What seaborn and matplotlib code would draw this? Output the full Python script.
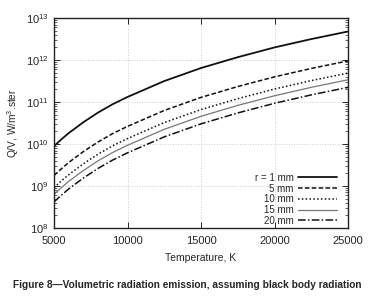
import numpy as np
import pandas as pd
import matplotlib
matplotlib.use("Agg")
import matplotlib.pyplot as plt
import seaborn as sns
from matplotlib.ticker import LogLocator, NullFormatter

sns.set_style("ticks")
plt.rcParams["font.family"] = ["Liberation Sans", "DejaVu Sans"]
plt.rcParams["mathtext.fontset"] = "custom"
plt.rcParams["mathtext.rm"] = "Liberation Sans"
plt.rcParams["mathtext.it"] = "Liberation Sans:italic"

# temperatures in K and emission values (W/m^3.ster)
temperature = [5000, 5500, 6000, 6500, 7000, 8000, 9000, 10000,
               12500, 15000, 17500, 20000, 22500, 25000]
q_r1 = [8.91e9, 1.29e10, 1.82e10, 2.45e10, 3.31e10, 5.62e10, 8.91e10, 1.32e11,
        3.16e11, 6.46e11, 1.17e12, 2.00e12, 3.16e12, 4.79e12]
q_r5 = [1.78e9, 2.57e9, 3.63e9, 4.90e9, 6.61e9, 1.12e10, 1.78e10, 2.63e10,
        6.31e10, 1.29e11, 2.34e11, 3.98e11, 6.31e11, 9.55e11]
q_r10 = [9.12e8, 1.32e9, 1.86e9, 2.51e9, 3.39e9, 5.75e9, 9.12e9, 1.35e10,
         3.24e10, 6.61e10, 1.20e11, 2.04e11, 3.24e11, 4.90e11]
q_r15 = [6.31e8, 9.12e8, 1.29e9, 1.74e9, 2.34e9, 3.98e9, 6.31e9, 9.33e9,
         2.24e10, 4.57e10, 8.32e10, 1.41e11, 2.24e11, 3.39e11]
q_r20 = [4.17e8, 6.03e8, 8.51e8, 1.15e9, 1.55e9, 2.63e9, 4.17e9, 6.17e9,
         1.48e10, 3.02e10, 5.50e10, 9.33e10, 1.48e11, 2.24e11]

labels = ["r = 1 mm", "5 mm", "10 mm", "15 mm", "20 mm"]
series = [q_r1, q_r5, q_r10, q_r15, q_r20]
styles = [("-", "#111111", 1.3), ((0, (3, 1.5)), "#111111", 1.1),
          ((0, (1, 1.5)), "#111111", 1.1), ("-", "#777777", 0.9),
          ((0, (5, 1.5, 1, 1.5)), "#111111", 1.1)]

fig = plt.figure(figsize=(3.79, 3.06), dpi=100)
ax = fig.add_axes([0.1425, 0.255, 0.776, 0.686])

for lab, vals, (ls, col, lw) in zip(labels, series, styles):
    sns.lineplot(x=temperature, y=vals, ax=ax, label=lab, color=col,
                 linestyle=ls, linewidth=lw)

ax.set_yscale("log")
ax.set_xlim(5000, 25000)
ax.set_ylim(1e8, 1e13)
ax.set_xticks([5000, 10000, 15000, 20000, 25000])
ax.yaxis.set_major_locator(LogLocator(base=10, numticks=10))
ax.yaxis.set_minor_locator(LogLocator(base=10, subs=np.arange(2, 10), numticks=10))
ax.yaxis.set_minor_formatter(NullFormatter())
ax.tick_params(axis="both", which="both", direction="in", top=True, right=True,
               labelsize=8)
ax.tick_params(axis="x", which="major", pad=6)
ax.tick_params(axis="y", which="major", pad=4)
ax.tick_params(axis="both", which="major", length=4, width=0.7)
ax.tick_params(axis="y", which="minor", length=2, width=0.5)
ax.grid(True, which="major", color="#cccccc", linestyle=":", linewidth=0.7)
for s in ax.spines.values():
    s.set_linewidth(1.0)
    s.set_color("#222222")

ax.set_xlabel("Temperature, K", fontsize=7.5, labelpad=5)
ax.set_ylabel("Q/V, W/m$^3$.ster", fontsize=7.3, labelpad=3)

leg = ax.legend(loc="lower right", bbox_to_anchor=(0.963, 0.01), frameon=False,
                markerfirst=False, fontsize=7, handlelength=4.0,
                labelspacing=0.08, handletextpad=0.5, borderaxespad=0,
                borderpad=0)

fig.text(0.034, 0.068, "Figure 8\u2014Volumetric radiation emission, assuming black body radiation",
         fontsize=7.3, fontweight="bold", ha="left", va="center")

fig.savefig("out.png", dpi=100)
